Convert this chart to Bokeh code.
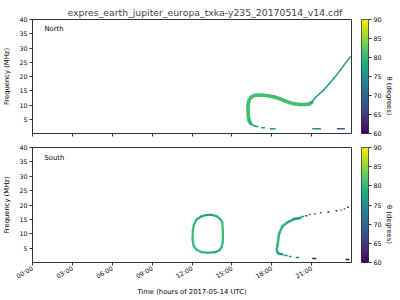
import math
import numpy as np
from bokeh.plotting import figure
from bokeh.models import (ColumnDataSource, LinearColorMapper,
                          FixedTicker, Label, Range1d)
from bokeh.layouts import column, row
from bokeh.palettes import Viridis256
from bokeh.transform import transform
from bokeh.embed import file_html
from bokeh.resources import INLINE

TITLE = "expres_earth_jupiter_europa_txka-y235_20170514_v14.cdf"
hour_ticks = [0, 3, 6, 9, 12, 15, 18, 21]
hour_labels = ["00:00", "03:00", "06:00", "09:00", "12:00", "15:00", "18:00", "21:00"]
freq_ticks = [5, 10, 15, 20, 25, 30, 35, 40]
theta_ticks = [60, 65, 70, 75, 80, 85, 90]
theta_low, theta_high = 60, 90

# ---- North hemisphere ----
north_loop_time = [16.4, 16.3, 16.24, 16.21, 16.22, 16.28, 16.42, 16.65, 17.0, 17.4, 17.8, 18.2,
                   18.6, 18.95, 19.3, 19.7, 20.1, 20.5, 20.8, 21.0]
north_loop_freq = [3.6, 4.5, 6.0, 8.0, 10.0, 11.5, 12.6, 13.3, 13.5, 13.4, 13.2, 12.8,
                   12.2, 11.5, 10.9, 10.4, 10.2, 10.2, 10.3, 10.9]
north_loop_theta = [79, 80, 81, 81, 81, 81, 81, 81, 81, 81, 81, 81,
                    81, 81, 81, 81, 81, 81, 81, 80]
north_hook_time = [16.42, 16.55, 16.75, 16.95]
north_hook_freq = [3.6, 3.0, 2.6, 2.4]
north_hook_theta = [78, 77, 77, 77]
north_line_time = [21.0, 21.3, 21.9, 22.4, 22.7, 23.2, 23.4, 23.9]
north_line_freq = [10.9, 12.7, 15.2, 17.9, 19.5, 22.5, 23.8, 26.9]
north_line_theta = [77, 76, 76, 76, 76, 76, 76, 76]
north_dash_start = [17.2, 17.85, 21.05, 22.9]
north_dash_end = [17.5, 18.3, 21.7, 23.5]
north_dash_freq = [2.0, 1.64, 1.64, 1.64]
north_dash_theta = [77, 76, 75, 69]

# ---- South hemisphere ----
south_loop_time = [13.45, 13.85, 14.12, 14.28, 14.33, 14.31, 14.25, 14.1, 13.78, 13.2, 12.72, 12.35,
                   12.12, 12.04, 12.06, 12.13, 12.33, 12.7, 13.05, 13.45]
south_loop_freq = [16.6, 16.1, 15.1, 13.9, 10.0, 7.0, 5.6, 4.4, 3.6, 3.4, 3.6, 4.4,
                   5.9, 8.0, 11.0, 12.9, 14.9, 16.0, 16.5, 16.6]
south_loop_theta = [77, 78, 80, 80, 80, 80, 80, 79, 78, 78, 79, 80,
                    80, 80, 80, 80, 79, 78, 77, 77]
south_arc_time = [18.8, 18.55, 18.42, 18.38, 18.43, 18.55, 18.8, 19.2, 19.67, 20.15]
south_arc_freq = [2.9, 3.0, 3.6, 4.5, 5.9, 10.0, 12.6, 14.0, 15.1, 15.5]
south_arc_theta = [76, 77, 79, 80, 80, 80, 80, 79, 77, 75]
south_dash_start = [18.9, 19.3, 19.8, 21.05, 23.55,
                    20.2, 20.5, 20.8, 21.17, 21.62, 22.18, 22.8, 23.18, 23.42, 23.68]
south_dash_end = [19.2, 19.5, 20.05, 21.35, 23.85,
                  20.42, 20.7, 20.93, 21.3, 21.75, 22.35, 22.93, 23.25, 23.5, 23.8]
south_dash_freq = [2.4, 2.1, 1.74, 1.4, 1.04,
                   16.0, 16.3, 16.7, 16.9, 17.3, 17.6, 18.0, 18.3, 18.7, 19.2]
south_dash_theta = [76, 75, 73, 61, 61,
                    74, 72, 70, 68, 66, 63, 62, 61, 61, 61]

FONT = "DejaVu Sans"
AX = "#333333"
TICK_FS = "6.3px"
LABEL_FS = "6.8px"
mapper = LinearColorMapper(palette=Viridis256, low=theta_low, high=theta_high)


def path_source(t, f, th):
    return ColumnDataSource(dict(
        x0=t[:-1], x1=t[1:], y0=f[:-1], y1=f[1:],
        theta=[(a + b) / 2 for a, b in zip(th[:-1], th[1:])]))


def dash_source(t0, t1, f, th):
    return ColumnDataSource(dict(x0=t0, x1=t1, y0=f, y1=f, theta=th))


def style_axis(ax):
    ax.axis_line_color = AX
    ax.major_tick_line_color = AX
    ax.major_tick_out = 3
    ax.major_tick_in = 0
    ax.minor_tick_line_color = None
    ax.major_label_text_font = FONT
    ax.major_label_text_font_size = TICK_FS
    ax.major_label_text_color = "black"
    ax.major_label_standoff = 2
    ax.axis_label_text_font = FONT
    ax.axis_label_text_font_size = LABEL_FS
    ax.axis_label_text_font_style = "normal"
    ax.axis_label_text_color = "black"


def make_fig(frame_h, top, bottom, show_xlabels):
    p = figure(frame_width=319, frame_height=frame_h,
               min_border_left=31, min_border_right=10,
               min_border_top=top, min_border_bottom=bottom,
               x_range=Range1d(0, 24), y_range=Range1d(0, 40),
               output_backend="svg", toolbar_location=None)
    p.grid.visible = False
    p.outline_line_color = AX
    p.outline_line_width = 1

    ya = p.yaxis[0]
    xa = p.xaxis[0]
    style_axis(ya)
    style_axis(xa)
    ya.ticker = FixedTicker(ticks=freq_ticks)
    ya.axis_label = "Frequency (MHz)"
    ya.axis_label_standoff = 5

    xa.ticker = FixedTicker(ticks=hour_ticks)
    if show_xlabels:
        xa.major_label_overrides = {t: lab for t, lab in zip(hour_ticks, hour_labels)}
        xa.major_label_orientation = math.pi / 6
        xa.axis_label = "Time (hours of 2017-05-14 UTC)"
        xa.axis_label_standoff = 2
    else:
        xa.major_label_overrides = {t: "" for t in hour_ticks}
    return p


def make_cbar(frame_h, top, bottom):
    c = figure(frame_width=7, frame_height=frame_h,
               min_border_left=0, min_border_right=33,
               min_border_top=top, min_border_bottom=bottom,
               x_range=Range1d(0, 1), y_range=Range1d(theta_low, theta_high),
               y_axis_location="right",
               output_backend="svg", toolbar_location=None)
    c.grid.visible = False
    c.xaxis.visible = False
    c.outline_line_color = AX
    c.outline_line_width = 1
    grad = np.linspace(theta_low, theta_high, 256).reshape(256, 1)
    c.image(image=[grad], x=0, y=theta_low, dw=1, dh=theta_high - theta_low,
            color_mapper=mapper)
    ya = c.yaxis[0]
    style_axis(ya)
    ya.axis_line_color = None
    ya.ticker = FixedTicker(ticks=theta_ticks)
    ya.axis_label = "θ (degrees)"
    ya.axis_label_standoff = 4
    try:
        ya.axis_label_orientation = -math.pi / 2
    except Exception:
        pass
    return c


def draw_path(p, t, f, th, w):
    p.segment("x0", "y0", "x1", "y1", source=path_source(t, f, th),
              line_color=transform("theta", mapper), line_width=w, line_cap="round")


def draw_dashes(p, t0, t1, f, th, w):
    p.segment("x0", "y0", "x1", "y1", source=dash_source(t0, t1, f, th),
              line_color=transform("theta", mapper), line_width=w, line_cap="butt")


top = make_fig(114, 19, 7, False)
top.title.text = TITLE
top.title.text_font = FONT
top.title.text_font_size = "9.3px"
top.title.text_font_style = "normal"
top.title.align = "left"
top.title.offset = 35
top.title.standoff = 4
draw_path(top, north_loop_time, north_loop_freq, north_loop_theta, 3.5)
draw_path(top, north_hook_time, north_hook_freq, north_hook_theta, 1.5)
draw_path(top, north_line_time, north_line_freq, north_line_theta, 1.5)
draw_dashes(top, north_dash_start, north_dash_end, north_dash_freq, north_dash_theta, 1.5)
top.add_layout(Label(x=0.9, y=36.5, text="North", text_font=FONT, text_font_size=LABEL_FS,
                     text_baseline="middle", text_color="black"))
top_cb = make_cbar(114, 19, 7)

bot = make_fig(115, 7, 38, True)
draw_path(bot, south_loop_time, south_loop_freq, south_loop_theta, 2.2)
draw_path(bot, south_arc_time, south_arc_freq, south_arc_theta, 2.5)
draw_dashes(bot, south_dash_start, south_dash_end, south_dash_freq, south_dash_theta, 1.5)
bot.add_layout(Label(x=0.9, y=36.5, text="South", text_font=FONT, text_font_size=LABEL_FS,
                     text_baseline="middle", text_color="black"))
bot_cb = make_cbar(115, 7, 38)

layout = column(row(top, top_cb, spacing=0), row(bot, bot_cb, spacing=0), spacing=0)
open("out.html", "w").write(file_html(layout, INLINE))
